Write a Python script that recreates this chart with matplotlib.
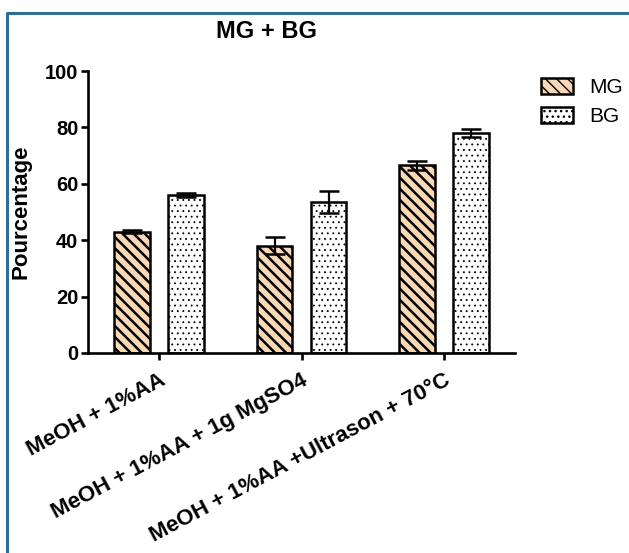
import matplotlib
matplotlib.use("Agg")
import matplotlib.pyplot as plt
import numpy as np
from matplotlib.lines import Line2D

categories = ["MeOH + 1%AA", "MeOH + 1%AA + 1g MgSO4", "MeOH + 1%AA +Ultrason + 70°C"]
mg_vals = [43.0, 38.0, 66.5]
mg_err = [0.5, 3.0, 1.6]
bg_vals = [56.0, 53.5, 78.0]
bg_err = [0.7, 4.0, 1.3]
series_names = ["MG", "BG"]
yticks = [0, 20, 40, 60, 80, 100]

plt.rcParams["font.family"] = ["Liberation Sans", "DejaVu Sans"]

fig = plt.figure(figsize=(6.29, 5.53), dpi=100)
ax = fig.add_axes([0.140, 0.3617, 0.679, 0.5099])

x = np.arange(len(categories))
w = 0.25
off = 0.19

with plt.rc_context({"hatch.linewidth": 1.8}):
    b1 = ax.bar(x - off, mg_vals, w, color="#F9D8B6", edgecolor="black",
                linewidth=1.8, hatch="\\\\\\", label=series_names[0], zorder=2)
with plt.rc_context({"hatch.linewidth": 0.6}):
    b2 = ax.bar(x + off, bg_vals, w, color="white", edgecolor="black",
                linewidth=1.8, hatch="...", label=series_names[1], zorder=2)

ax.errorbar(x - off, mg_vals, yerr=mg_err, fmt="none", ecolor="black",
            elinewidth=1.6, capsize=7.5, capthick=1.8, zorder=3)
ax.errorbar(x + off, bg_vals, yerr=bg_err, fmt="none", ecolor="black",
            elinewidth=1.6, capsize=7.5, capthick=1.8, zorder=3)

ax.set_xlim(-0.5, 2.5)
ax.set_ylim(0, 100)
ax.set_yticks(yticks)
ax.set_xticks(x)
ax.set_xticklabels(categories, rotation=28, ha="right", rotation_mode="anchor",
                   fontsize=16, fontweight="bold")
for lab in ax.get_yticklabels():
    lab.set_fontsize(14.5)
    lab.set_fontweight("bold")

for s in ["top", "right"]:
    ax.spines[s].set_visible(False)
for s in ["left", "bottom"]:
    ax.spines[s].set_linewidth(1.9)
ax.tick_params(axis="both", direction="out", length=5, width=1.9, pad=2)
ax.tick_params(axis="x", pad=7)

ax.set_ylabel("Pourcentage", fontsize=16, fontweight="bold", labelpad=10)
fig.text(267 / 629, 1 - 32 / 553, "MG + BG", fontsize=17, fontweight="bold",
         ha="center", va="center")

ax.legend(loc="upper left", bbox_to_anchor=(541 / 629, 1 - 78 / 553),
          bbox_transform=fig.transFigure, frameon=False, fontsize=15,
          handlelength=1.55, handleheight=0.8, handletextpad=0.75,
          labelspacing=0.45, borderpad=0, borderaxespad=0)

# blue frame (left and top edges visible)
border = "#2B6F98"
fig.add_artist(Line2D([7 / 629, 7 / 629, 1], [0, 1 - 13 / 553, 1 - 13 / 553],
                      transform=fig.transFigure, color=border, linewidth=2.2))

fig.savefig("out.png", dpi=100)
